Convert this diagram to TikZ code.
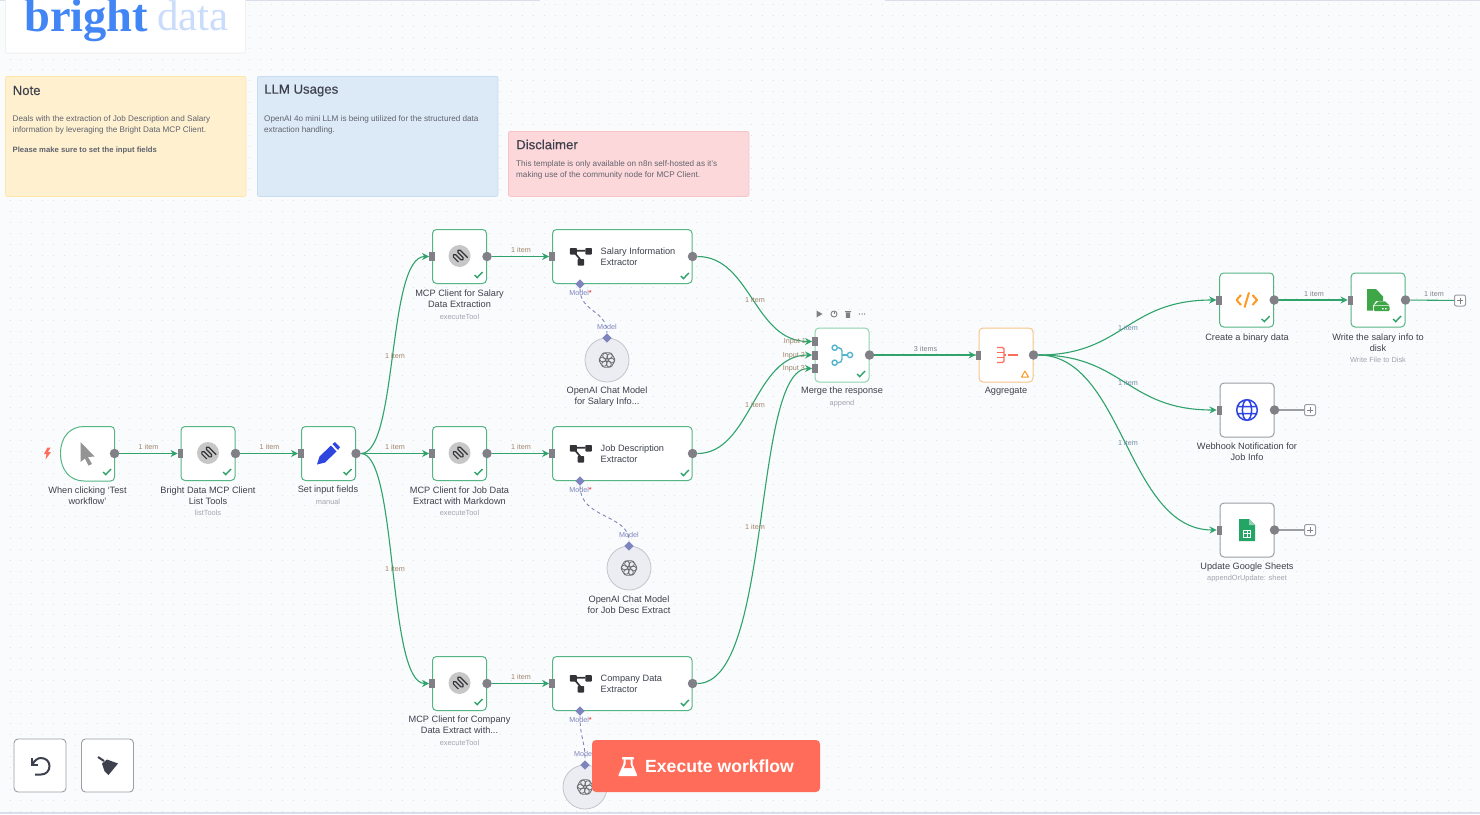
\documentclass[tikz,border=0pt]{standalone}
\usepackage{fontspec}
\setmainfont{Liberation Sans}
\newfontfamily\logofont{Liberation Serif}
\newfontfamily\medfont[FakeBold=0.35]{Liberation Sans}
\usetikzlibrary{arrows.meta,shapes.geometric}
\definecolor{canvas}{HTML}{F9FBFD}
\definecolor{griddot}{HTML}{DFE2E8}
\definecolor{okgreen}{HTML}{2FA36B}
\definecolor{okborder}{HTML}{55B585}
\definecolor{softgreen}{HTML}{8FD3AE}
\definecolor{port}{HTML}{808086}
\definecolor{greyborder}{HTML}{9C9EA6}
\definecolor{labelc}{HTML}{3E414D}
\definecolor{bodyc}{HTML}{60636E}
\definecolor{subc}{HTML}{A2A4AE}
\definecolor{itemw}{HTML}{A08468}
\definecolor{itemb}{HTML}{6E8CA6}
\definecolor{itemg}{HTML}{808088}
\definecolor{modelc}{HTML}{7E84BC}
\definecolor{brand}{HTML}{FF6D5A}
\definecolor{darkicon}{HTML}{333338}
\definecolor{chatgrey}{HTML}{6A6A70}
\definecolor{orangeb}{HTML}{F5C58A}
\definecolor{orangei}{HTML}{FF9922}
\definecolor{filegreen}{HTML}{3FA648}
\definecolor{sheetgreen}{HTML}{23A566}
\definecolor{bluei}{HTML}{2F45E0}
\definecolor{tealI}{HTML}{54B4CC}
\definecolor{logoA}{HTML}{4285F4}
\definecolor{logoB}{HTML}{C9DCFB}
\definecolor{noteYf}{HTML}{FFF1D0}
\definecolor{noteYd}{HTML}{FFE6A8}
\definecolor{noteBf}{HTML}{DCE9F7}
\definecolor{noteBd}{HTML}{C8DCF1}
\definecolor{noteRf}{HTML}{FDD8DA}
\definecolor{noteRd}{HTML}{F6C4C7}
\definecolor{aifill}{HTML}{ECEDF3}
\definecolor{topline}{HTML}{D9DEEA}
\pgfdeclarelayer{bg}
\pgfdeclarelayer{edges}
\pgfsetlayers{bg,edges,main}
\newcommand{\pxs}[1]{\fontsize{#1}{#1}\selectfont}
\newcommand{\pxl}{\fontsize{9.2}{10.8}\selectfont}
\newcommand{\pxn}{\fontsize{8.15}{10.9}\selectfont}
\tikzset{
  sq/.style={draw=okborder,fill=white,line width=1pt,rounded corners=4pt,minimum width=54pt,minimum height=54pt,inner sep=0pt},
  wide/.style={sq,minimum width=139.5pt},
  softb/.style={draw=softgreen},
  orangebox/.style={draw=orangeb},
  greybox/.style={draw=greyborder},
  inp/.style={fill=port,draw=none,minimum width=5.5pt,minimum height=9pt,inner sep=0pt},
  outp/.style={fill=port,draw=none,circle,minimum size=9.5pt,inner sep=0pt},
  lab/.style={font=\pxl,text=labelc,align=center,inner sep=0pt},
  subl/.style={font=\pxs{7.4},text=subc,inner sep=0pt},
  item/.style={font=\pxs{7.2},text=itemw,inner sep=0pt},
  itemB/.style={font=\pxs{7.2},text=itemb,inner sep=0pt},
  flow/.style={draw=okgreen,line width=1.1pt,-{Stealth[length=7pt,width=7pt]}},
  flowend/.style={draw=okgreen,line width=1.1pt},
  greyflow/.style={draw=greyborder,line width=1.1pt},
  halo/.style={draw=softgreen,line width=2.6pt},
  modeld/.style={diamond,fill=modelc,draw=none,minimum size=9.5pt,inner sep=0pt},
  modelt/.style={font=\pxs{7.2},text=modelc,inner sep=0pt},
  modele/.style={draw=modelc,line width=.9pt,dash pattern=on 3.5pt off 3pt},
  ai/.style={circle,fill=aifill,draw=greyborder!60,line width=.8pt,minimum size=44pt,inner sep=0pt},
  plusb/.style={draw=greyborder,fill=white,line width=1pt,rounded corners=2pt,minimum size=11pt,inner sep=0pt},
  notebox/.style={anchor=north west,rounded corners=2pt,line width=.8pt,minimum width=240.5pt,inner sep=0pt},
  notet/.style={anchor=west,font=\medfont\pxs{13.2},text=labelc,inner sep=0pt},
  noteb/.style={anchor=north west,align=left,font=\pxn,text=bodyc,inner sep=0pt},
  tool/.style={draw=greyborder,fill=white,line width=.9pt,rounded corners=4pt,minimum width=52pt,minimum height=53pt,inner sep=0pt},
}
\newcommand{\chk}[2]{\draw[okgreen,line width=1.4pt] (#1-4,#2) -- (#1-1.3,#2+2.6) -- (#1+4,#2-3);}
\newcommand{\sqn}[4][]{%
  \node[sq,#1] (#2) at (#3,#4) {};
  \node[inp] (#2i) at (#2.west) {};
  \node[outp] (#2o) at (#2.east) {};}
\newcommand{\widen}[3]{%
  \node[wide] (#1) at (#2,#3) {};
  \node[inp] (#1i) at (#1.west) {};
  \node[outp] (#1o) at (#1.east) {};
  \chk{#2+62.5}{#3+19.5}
  \fill[darkicon,rounded corners=.8pt] (#2-52.5,#3-8.5) rectangle ++(7,6.5) (#2-37,#3-8.5) rectangle ++(6.5,6.5) (#2-44.7,#3+2.5) rectangle ++(6.5,6.5);
  \draw[darkicon,line width=1.7pt] (#2-46,#3-5.7) -- (#2-37,#3-5.7) (#2-47,#3-3) -- (#2-42,#3+3);}
\newcommand{\mcp}[2]{%
  \fill[black!22] (#1,#2) circle (11);
  \begin{scope}[shift={(#1,#2)},rotate=45]
  \draw[darkicon,line width=1.15pt,rounded corners=1.4pt] (-5,3.5) -- (-5,-5) -- (-1.8,-5) -- (-1.8,5) -- (1.4,5) -- (1.4,-5) -- (4.6,-5) -- (4.6,7);
  \end{scope}}
\newcommand{\knot}[2]{%
  \foreach \a in {0,60,...,300}{\begin{scope}[shift={(#1,#2)},rotate=\a]
    \draw[chatgrey,line width=.8pt,rounded corners=2.6pt] (-5.2,1.2) rectangle (4.2,7.2);
  \end{scope}}}
\newcommand{\pluss}[2]{\draw[port,line width=1pt] (#1-3,#2) -- (#1+3,#2) (#1,#2-3) -- (#1,#2+3);}
\begin{document}
\begin{tikzpicture}[x=1pt,y=-1pt]
\useasboundingbox (0,0) rectangle (1480,814);
\clip (0,0) rectangle (1480,814);
\begin{pgfonlayer}{bg}
  \fill[canvas] (0,0) rectangle (1480,814);
  \foreach \k in {0,...,74}{
    \draw[griddot,line width=1pt,dash pattern=on 1pt off 9.9pt] (9.5,4.5+10.9*\k) -- (1480,4.5+10.9*\k);}
  \fill[topline] (0,0) rectangle (540,1);
  \fill[topline] (885,0) rectangle (1480,1);
  \fill[topline] (0,812) rectangle (1480,814);
\end{pgfonlayer}

% logo
\node[draw=black!6,fill=white,line width=.8pt,rounded corners=2pt,anchor=south west,minimum width=240pt,minimum height=63pt,inner sep=0pt] (logobox) at (5,53.5) {};
\node[anchor=base west,inner sep=0pt,text=logoA,font=\logofont\bfseries\pxs{46.5}] (bright) at (24,31.5) {bright};
\node[anchor=base west,inner sep=0pt,text=logoB,font=\logofont\pxs{43}] (datat) at (157,30) {data};

% notes
\node[notebox,fill=noteYf,draw=noteYd,minimum height=120pt] (noteA) at (5,76) {};
\node[notet] (noteAt) at (12.5,90.5) {Note};
\node[noteb] (noteAb) at (12.5,115.5) {Deals with the extraction of Job Description and Salary\\information by leveraging the Bright Data MCP Client.\\[9.2pt]{\fontsize{7.7}{10.9}\selectfont\textbf{Please make sure to set the input fields}}};
\node[notebox,fill=noteBf,draw=noteBd,minimum height=120pt] (noteB) at (257,76) {};
\node[notet] (noteBt) at (264,90.5) {LLM Usages};
\node[noteb] (noteBb) at (264,115.5) {OpenAI 4o mini LLM is being utilized for the structured data\\extraction handling.};
\node[notebox,fill=noteRf,draw=noteRd,minimum height=65pt] (noteC) at (508,131) {};
\node[notet] (noteCt) at (516,144.5) {Disclaimer};
\node[noteb] (noteCb) at (516,160) {This template is only available on n8n self-hosted as it's\\making use of the community node for MCP Client.};

% trigger
\draw[draw=okborder,fill=white,line width=1pt] (84,426.5) -- (110.5,426.5) .. controls (113,426.5) and (114.5,428) .. (114.5,430.5) -- (114.5,477) .. controls (114.5,479.5) and (113,481) .. (110.5,481) -- (84,481) .. controls (70,481) and (60.5,470) .. (60.5,453.5) .. controls (60.5,437) and (70,426.5) .. (84,426.5) -- cycle;
\node[outp] (trigo) at (114.5,453.5) {};
\chk{107}{472}
\fill[black!42] (80.5,442) -- (94.5,456.5) -- (88,457) -- (92,464) -- (88.5,465.5) -- (85,458.5) -- (80.5,462) -- cycle;
\fill[brand] (47.5,447.5) -- (44,454) -- (46.5,454) -- (45.5,459.5) -- (51,452) -- (48,452) -- (50.5,447.5) -- cycle;
\node[lab] (trigl) at (87.5,495.8) {When clicking ‘Test\\workflow’};

% left nodes
\sqn{bd}{208}{453.5} \mcp{208}{453} \chk{227}{472}
\node[lab] (bdl) at (208,495.8) {Bright Data MCP Client\\List Tools};
\node[subl] (bds) at (208,512.5) {listTools};
\sqn{setn}{328.5}{453.5} \chk{347.5}{472}
\fill[bluei] (317,464.5) -- (319.5,456.5) -- (331,445.5) -- (336.5,451.5) -- (325,462.5) -- cycle (332.5,444) -- (335,442) -- (340,447) -- (338,450) -- cycle;
\node[lab] (setl) at (328,490.4) {Set input fields};
\node[subl] (sets) at (328,501.8) {manual};

% MCP clients
\sqn{mcpa}{459.5}{256.5} \mcp{459.5}{256} \chk{478.5}{275}
\node[lab] (mcpal) at (459.5,298.8) {MCP Client for Salary\\Data Extraction};
\node[subl] (mcpas) at (459.5,316.5) {executeTool};
\sqn{mcpb}{459.5}{453.5} \mcp{459.5}{453} \chk{478.5}{472}
\node[lab] (mcpbl) at (459.5,495.8) {MCP Client for Job Data\\Extract with Markdown};
\node[subl] (mcpbs) at (459.5,512.5) {executeTool};
\sqn{mcpc}{459.5}{683.5} \mcp{459.5}{683} \chk{478.5}{702}
\node[lab] (mcpcl) at (459.5,724.8) {MCP Client for Company\\Data Extract with...};
\node[subl] (mcpcs) at (459.5,742.5) {executeTool};

% extractors
\widen{exa}{622.3}{256.5}
\node[lab,anchor=west,align=left] (exat) at (600.5,256.8) {Salary Information\\Extractor};
\widen{exb}{622.3}{453.5}
\node[lab,anchor=west,align=left] (exbt) at (600.5,453.8) {Job Description\\Extractor};
\widen{exc}{622.3}{683.5}
\node[lab,anchor=west,align=left] (exct) at (600.5,683.8) {Company Data\\Extractor};

% sub model nodes
\node[modeld] (da) at (580,284) {};
\node[modelt] (dat) at (580.5,293) {Model\textcolor{red}{*}};
\node[ai] (aia) at (607,360) {}; \knot{607}{360}
\node[modeld] (ma) at (607,338) {};
\node[modelt] (mat) at (607,326.5) {Model};
\node[lab] (aial) at (607,396.8) {OpenAI Chat Model\\for Salary Info...};
\node[modeld] (db) at (580,481) {};
\node[modelt] (dbt) at (580.5,490) {Model\textcolor{red}{*}};
\node[ai] (aib) at (629,568) {}; \knot{629}{568}
\node[modeld] (mb) at (629,546) {};
\node[modelt] (mbt) at (629,534.5) {Model};
\node[lab] (aibl) at (629,604.8) {OpenAI Chat Model\\for Job Desc Extract};
\node[modeld] (dc) at (580,711) {};
\node[modelt] (dct) at (580.5,720) {Model\textcolor{red}{*}};
\node[ai] (aic) at (585,787) {}; \knot{585}{787}
\node[modeld] (mc) at (585,765) {};
\node[modelt] (mct) at (584,753.5) {Model};

% merge
\node[sq,softb] (mer) at (842,355) {};
\node[inp] (meri1) at (815,341.5) {};
\node[inp] (meri2) at (815,355) {};
\node[inp] (meri3) at (815,368.5) {};
\node[outp] (mero) at (mer.east) {};
\chk{861}{374}
\node[item,anchor=east] (inA) at (806,341.8) {Input 1};
\node[item,anchor=east] (inB) at (805,355.8) {Input 2};
\node[item,anchor=east] (inC) at (805,369) {Input 3};
\draw[tealI,line width=1.4pt] (834.7,347.7) circle (2.6) (834.7,362.7) circle (2.6) (850,355) circle (2.6);
\draw[tealI,line width=1.4pt,rounded corners=3.5pt] (837.3,347.7) -- (842,347.7) -- (842,362.7) -- (837.3,362.7);
\draw[tealI,line width=1.4pt] (842,355) -- (847.4,355);
\node[lab] (merl) at (842,391.4) {Merge the response};
\node[subl] (mers) at (842,403.5) {append};
\fill[black!50] (816.5,310.5) -- (822.5,314) -- (816.5,317.5) -- cycle;
\draw[black!50,line width=.9pt] (834,314) circle (3);
\fill[black!50] (834,312) rectangle (834.6,314.4);
\fill[black!50] (845,311) rectangle (851,312) (845.8,312.6) rectangle (850.2,317.8);
\fill[black!50] (859.4,314) circle (.75) (862,314) circle (.75) (864.6,314) circle (.75);

% aggregate
\sqn[orangebox]{agg}{1006}{355}
\draw[brand,line width=1.3pt,rounded corners=1.5pt] (997,347.5) -- (1004,347.5) -- (1004,362.5) -- (997,362.5);
\draw[brand,line width=1.3pt] (997,352.5) -- (1004,352.5) (997,357.5) -- (1004,357.5) (1004,355) -- (1006,355) (1008,355) -- (1017.5,355);
\draw[orangei,line width=1pt,line join=round] (1025,371) -- (1028.5,377) -- (1021.5,377) -- cycle;
\node[lab] (aggl) at (1006,391.4) {Aggregate};

% right
\sqn{bin}{1246.7}{300} \chk{1265.7}{319}
\draw[orangei,line width=2pt,line join=round] (1241,295) -- (1236.5,300) -- (1241,305) (1252.5,295) -- (1257,300) -- (1252.5,305) (1249,292.5) -- (1244.5,307.5);
\node[lab] (binl) at (1247,337.7) {Create a binary data};
\sqn{wrt}{1378}{300} \chk{1397}{319}
\fill[filegreen] (1367,289) -- (1376,289) -- (1383,296.5) -- (1383,301) -- (1376,301) -- (1373,305.5) -- (1373,310.5) -- (1367,310.5) -- cycle;
\fill[filegreen,rounded corners=.8pt] (1374,311) rectangle (1389.5,306) ;
\fill[filegreen] (1378.5,301.3) -- (1385,301.3) -- (1389.5,305.3) -- (1374,305.3) -- cycle;
\fill[white] (1382,308) rectangle (1383.5,309.4) (1385.2,308) rectangle (1386.7,309.4);
\node[lab] (wrtl) at (1378,342.4) {Write the salary info to\\disk};
\node[subl] (wrts) at (1378,359.5) {Write File to Disk};
\node[plusb] (pa) at (1460,300.5) {}; \pluss{1460}{300.5}
\sqn[greybox]{web}{1247}{410}
\draw[bluei,line width=1.5pt] (1247,410) circle (10.3) (1247,410) ellipse (4.6 and 10.3) (1236.7,406.5) -- (1257.3,406.5) (1236.7,413.5) -- (1257.3,413.5);
\node[lab] (webl) at (1247,451.8) {Webhook Notification for\\Job Info};
\node[plusb] (pb) at (1310,410) {}; \pluss{1310}{410}
\sqn[greybox]{gsh}{1247}{530}
\fill[sheetgreen] (1239,519) -- (1249,519) -- (1255,525) -- (1255,541) -- (1239,541) -- cycle;
\fill[sheetgreen!50!white] (1249,519) -- (1255,525) -- (1249,525) -- cycle;
\draw[white,line width=.8pt] (1243.5,530) rectangle (1250.5,537) (1243.5,533.5) -- (1250.5,533.5) (1247,530) -- (1247,537);
\node[lab] (gshl) at (1247,566.7) {Update Google Sheets};
\node[subl] (gshs) at (1247,578.8) {appendOrUpdate: sheet};
\node[plusb] (pc) at (1310,530) {}; \pluss{1310}{530}

% edges
\begin{pgfonlayer}{edges}
\draw[flow] (trigo) -- (bdi.west);
\draw[flow] (bdo) -- (setni.west);
\draw[flow] (setno) -- (mcpbi.west);
\draw[flow] (setno) .. controls +(42,0) and +(-42,0) .. (mcpai.west);
\draw[flow] (setno) .. controls +(42,0) and +(-42,0) .. (mcpci.west);
\draw[flow] (mcpao) -- (exai.west);
\draw[flow] (mcpbo) -- (exbi.west);
\draw[flow] (mcpco) -- (exci.west);
\draw[flow] (exao) .. controls +(58,0) and +(-58,0) .. (meri1.west);
\draw[flow] (exbo) .. controls +(58,0) and +(-58,0) .. (meri2.west);
\draw[flow] (exco) .. controls +(80,0) and +(-60,0) .. (meri3.west);
\draw[halo] (mero) -- (aggi.west);
\draw[flow] (mero) -- (aggi.west);
\draw[flow] (aggo) .. controls +(90,0) and +(-90,0) .. (bini.west);
\draw[flow] (aggo) .. controls +(90,0) and +(-90,0) .. (webi.west);
\draw[flow] (aggo) .. controls +(90,0) and +(-90,0) .. (gshi.west);
\draw[flow] (bino) -- (wrti.west);
\draw[flowend] (wrto) -- (pa);
\draw[greyflow] (webo) -- (pb);
\draw[greyflow] (gsho) -- (pc);
\draw[modele] (da) .. controls +(0,28) and +(0,-28) .. (ma);
\draw[modele] (db) .. controls +(0,38) and +(0,-32) .. (mb);
\draw[modele] (dc) .. controls +(0,28) and +(0,-26) .. (mc);
\end{pgfonlayer}

% edge labels
\node[item] (e1) at (148.5,447) {1 item};
\node[item] (e2) at (269.5,447) {1 item};
\node[item] (e3) at (395,355.5) {1 item};
\node[item] (e4) at (395,447) {1 item};
\node[item] (e5) at (395,568.5) {1 item};
\node[item] (e6) at (521,250) {1 item};
\node[item] (e7) at (521,447) {1 item};
\node[item] (e8) at (521,677) {1 item};
\node[item] (e9) at (755,299.5) {1 item};
\node[item] (e10) at (755,405) {1 item};
\node[item] (e11) at (755,527) {1 item};
\node[itemB,text=itemg] (e12) at (925.5,349) {3 items};
\node[itemB] (e13) at (1128,327.5) {1 item};
\node[itemB] (e14) at (1128,382.5) {1 item};
\node[itemB] (e15) at (1128,442.5) {1 item};
\node[itemB,text=itemg] (e16) at (1314,294) {1 item};
\node[itemB,text=itemg] (e17) at (1434,294) {1 item};

% controls
\node[tool] (undo) at (40,765.5) {};
\draw[labelc,line width=2pt] (31.5,758) -- (31.5,764.8) -- (38.3,764.8);
\draw[labelc,line width=2pt] (32.5,764.5) .. controls (34.5,760) and (38,758) .. (41,758) .. controls (46,758) and (49.5,761.5) .. (49.5,766) .. controls (49.5,771) and (46,774.5) .. (41,774.5) -- (35,774.5);
\node[tool] (clear) at (107.5,765.5) {};
\draw[labelc,line width=2pt] (98,757) -- (104,761);
\fill[labelc] (102,763.5) -- (107,759.5) -- (118,763.5) -- (108.5,775) -- (104.5,771) -- cycle;
\node[fill=brand,rounded corners=4pt,minimum width=228pt,minimum height=52pt,inner sep=0pt] (exec) at (706,766) {};
\node[anchor=west,inner sep=0pt,text=white,font=\bfseries\pxs{17.6}] (exect) at (645,766) {Execute workflow};
\fill[white,rounded corners=.8pt] (622,757) rectangle (634,759.5);
\fill[white,rounded corners=1pt] (623.5,759) -- (632.5,759) -- (632.5,764) -- (637.5,776) -- (618,776) -- (623.5,764) -- cycle;
\fill[brand] (625.5,759.5) -- (630.5,759.5) -- (630.5,764.5) -- (632,768) -- (624,768) -- (625.5,764.5) -- cycle;
\end{tikzpicture}
\end{document}
